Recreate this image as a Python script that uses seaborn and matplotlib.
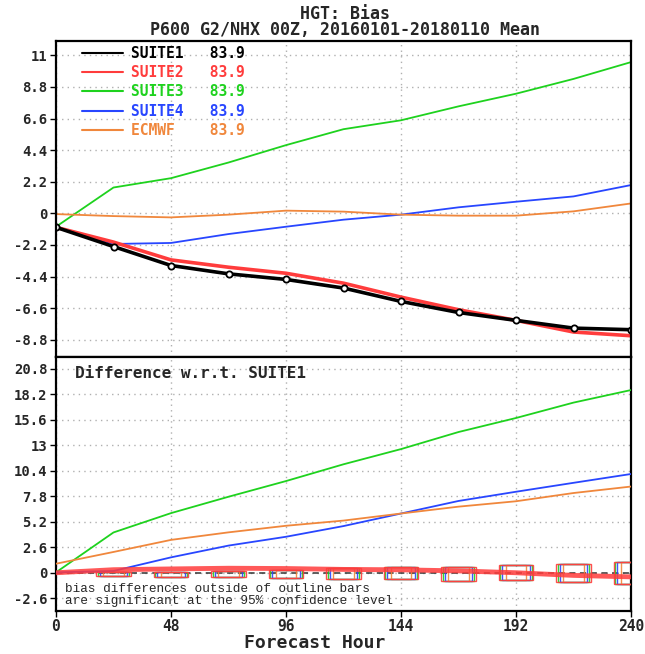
import numpy as np
import pandas as pd
import matplotlib
matplotlib.use("Agg")
import matplotlib.pyplot as plt
from matplotlib.lines import Line2D
import seaborn as sns

# ---------------- data ----------------
hours = [0, 24, 48, 72, 96, 120, 144, 168, 192, 216, 240]
suite1 = [-0.97, -2.31, -3.63, -4.21, -4.60, -5.20, -6.13, -6.90, -7.45, -7.99, -8.10]
suite2 = [-0.97, -2.00, -3.24, -3.75, -4.17, -4.86, -5.83, -6.71, -7.45, -8.26, -8.52]
suite3 = [-0.93, 1.80, 2.45, 3.54, 4.75, 5.86, 6.48, 7.45, 8.33, 9.36, 10.53]
suite4 = [-0.93, -2.13, -2.06, -1.44, -0.93, -0.44, -0.09, 0.42, 0.81, 1.18, 1.97]
ecmwf = [-0.05, -0.19, -0.28, -0.09, 0.19, 0.12, -0.09, -0.16, -0.16, 0.14, 0.69]

models = ["SUITE1", "SUITE2", "SUITE3", "SUITE4", "ECMWF"]
legend_vals = ["83.9", "83.9", "83.9", "83.9", "83.9"]

# significance (outline bar) limits for differences, hours 24..240
box_hours = [24, 48, 72, 96, 120, 144, 168, 192, 216, 240]
box_hi = [0.10, 0.12, 0.20, 0.25, 0.44, 0.54, 0.54, 0.82, 0.90, 1.05]
box_lo = [-0.30, -0.48, -0.48, -0.50, -0.65, -0.60, -0.82, -0.75, -0.90, -1.16]

top_ticks = [-8.8, -6.6, -4.4, -2.2, 0, 2.2, 4.4, 6.6, 8.8, 11]
top_ticklabels = ["-8.8", "-6.6", "-4.4", "-2.2", "0", "2.2", "4.4", "6.6", "8.8", "11"]
bot_ticks = [-2.6, 0, 2.6, 5.2, 7.8, 10.4, 13, 15.6, 18.2, 20.8]
bot_ticklabels = ["-2.6", "0", "2.6", "5.2", "7.8", "10.4", "13", "15.6", "18.2", "20.8"]
x_ticks = [0, 48, 96, 144, 192, 240]

# ---------------- styles ----------------
colors = {"SUITE1": "#000000", "SUITE2": "#ff3c3c", "SUITE3": "#1ed21e",
          "SUITE4": "#2846ff", "ECMWF": "#f0873c"}
box_halfw = {"SUITE2": 7.3, "SUITE3": 6.6, "SUITE4": 5.8, "ECMWF": 4.3}

sns.set_theme(style="white")
plt.rcParams["font.family"] = ["DejaVu Sans Mono", "DejaVu Sans"]
plt.rcParams["axes.unicode_minus"] = False

series = {"SUITE1": suite1, "SUITE2": suite2, "SUITE3": suite3,
          "SUITE4": suite4, "ECMWF": ecmwf}
df = pd.DataFrame([(m, h, v) for m in models for h, v in zip(hours, series[m])],
                  columns=["model", "hour", "bias"])
base = df[df.model == "SUITE1"].set_index("hour")["bias"]
df["diff"] = df.apply(lambda r: r["bias"] - base[r["hour"]], axis=1)

fig = plt.figure(figsize=(6.45, 6.54), dpi=100)
L, R = 56 / 645, 631 / 645
ax1 = fig.add_axes([L, 1 - 357 / 654, R - L, (357 - 41) / 654])
ax2 = fig.add_axes([L, 1 - 611 / 654, R - L, (611 - 357) / 654])

tickfont = dict(family="DejaVu Sans Mono", weight="bold", size=10)

for ax in (ax1, ax2):
    ax.set_xlim(0, 240)
    ax.set_xticks(x_ticks)
    for s in ax.spines.values():
        s.set_color("black")
        s.set_linewidth(1.6)
        s.set_visible(True)
    ax.grid(True, color="#b0b0b0", linestyle=(0, (1, 3)), linewidth=1.0)
    ax.set_axisbelow(True)
    ax.tick_params(axis="both", direction="out", length=4, width=1, color="black",
                   left=True, bottom=True, pad=2)

# ---------- top panel ----------
lw = {"SUITE1": 2.6, "SUITE2": 2.6, "SUITE3": 1.3, "SUITE4": 1.3, "ECMWF": 1.3}
for m in ["SUITE3", "SUITE4", "ECMWF", "SUITE2", "SUITE1"]:
    d = df[df.model == m]
    sns.lineplot(data=d, x="hour", y="bias", ax=ax1, color=colors[m],
                 linewidth=lw[m], legend=False,
                 marker="o" if m == "SUITE1" else None,
                 markersize=4.5, markerfacecolor="white", markeredgecolor="black",
                 markeredgewidth=1.3)
ax1.set_ylim(-10, 12)
ax1.set_yticks(top_ticks)
ax1.set_yticklabels(top_ticklabels, fontdict=tickfont)
ax1.tick_params(axis="x", labelbottom=False, length=0)
ax1.set_xlabel("")
ax1.set_ylabel("")

handles = [Line2D([0], [0], color=colors[m], lw=1.5) for m in models]
labels = [f"{m:<8s} {v}" for m, v in zip(models, legend_vals)]
ax1.legend(handles, labels, loc="upper left",
           bbox_to_anchor=(0.045, 0.985), frameon=False,
           prop=dict(family="DejaVu Sans Mono", weight="bold", size=10.5),
           labelcolor="linecolor", handlelength=2.8, handletextpad=0.6,
           labelspacing=0.3, borderpad=0, borderaxespad=0)

# ---------- bottom panel ----------
ax2.axhline(0, color="#333333", linestyle=(0, (4, 3)), linewidth=1.1, zorder=2)
for m in ["SUITE3", "SUITE4", "ECMWF", "SUITE2"]:
    ax2.bar(box_hours, np.array(box_hi) - np.array(box_lo), bottom=box_lo,
            width=2 * box_halfw[m], fill=False, edgecolor=colors[m],
            linewidth=1.0, alpha=0.9, zorder=3)
for m in ["SUITE3", "SUITE4", "ECMWF"]:
    d = df[df.model == m]
    sns.lineplot(data=d, x="hour", y="diff", ax=ax2, color=colors[m],
                 linewidth=1.3, legend=False, zorder=4)
d = df[df.model == "SUITE2"]
sns.lineplot(data=d, x="hour", y="diff", ax=ax2, color=colors["SUITE2"],
             linewidth=3.5, alpha=0.85, legend=False, zorder=5)
ax2.set_ylim(-3.9, 22.0)
ax2.set_yticks(bot_ticks)
ax2.set_yticklabels(bot_ticklabels, fontdict=tickfont)
ax2.set_xticklabels([str(x) for x in x_ticks], fontdict=dict(tickfont, size=10.5))
ax2.set_xlabel("")
ax2.set_ylabel("")

ax2.text(0.033, 0.935, "Difference w.r.t. SUITE1", transform=ax2.transAxes,
         ha="left", va="center", fontsize=11.5, fontweight="bold",
         family="DejaVu Sans Mono")
ax2.text(0.016, 0.063, "bias differences outside of outline bars\n"
         "are significant at the 95% confidence level",
         transform=ax2.transAxes, ha="left", va="center", fontsize=9.2,
         family="Liberation Mono", linespacing=1.0)

fig.text(315 / 645, 1 - 643 / 654, "Forecast Hour", ha="center", va="center",
         fontsize=13, fontweight="bold", family="DejaVu Sans Mono")
fig.text(345 / 645, 1 - 22 / 654,
         "HGT: Bias\nP600 G2/NHX 00Z, 20160101-20180110 Mean",
         ha="center", va="center", multialignment="center", linespacing=0.85,
         fontsize=12, fontweight="bold", family="DejaVu Sans Mono")

fig.savefig("out.png", dpi=100, facecolor="white")
